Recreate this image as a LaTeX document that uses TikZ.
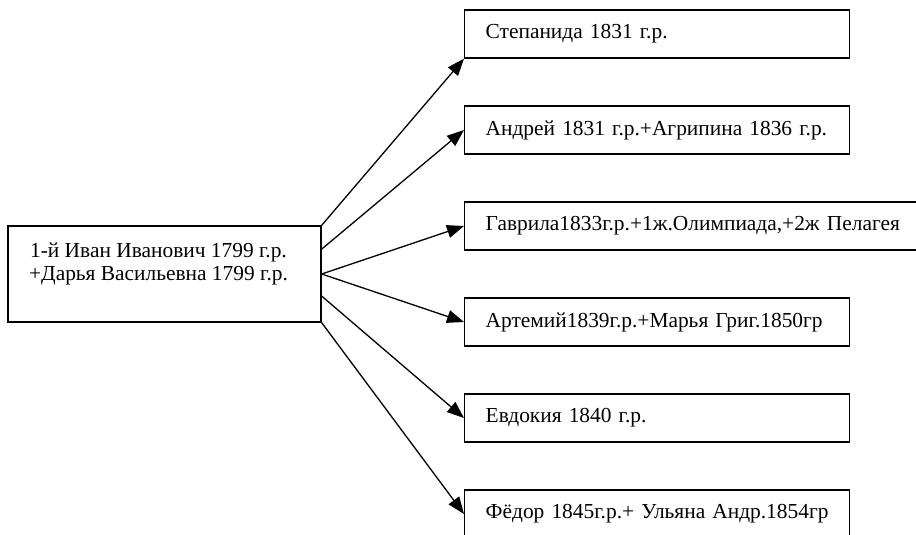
\documentclass[tikz,border=0pt]{standalone}
\usepackage{fontspec}
\setmainfont{Liberation Serif}
\usetikzlibrary{arrows.meta}

\tikzset{
  parentbox/.style={draw, line width=1.4pt, minimum width=313pt, minimum height=96pt, inner sep=0pt},
  childbox/.style={draw, line width=1.4pt, anchor=west, minimum height=48pt, inner xsep=21pt, inner ysep=0pt, text width=343pt, align=left},
  kin/.style={-{Triangle[length=17pt,width=13pt]}, line width=1.3pt}
}

\begin{document}
\begin{tikzpicture}[x=1pt,y=-1pt,font=\fontsize{21.4}{23}\selectfont]
        \useasboundingbox (0,0) rectangle (916,535);
        \clip (0,0) rectangle (916,535);
        \node[parentbox] (parent) at (164.5,274) {};
        \node[align=center, inner sep=0pt] (parenttext) at (158.5,264) {1-й Иван Иванович 1799 г.р.\\+Дарья Васильевна 1799 г.р.};
        \node[childbox] (child1) at (464,34) {Степанида 1831 г.р.};
        \node[childbox] (child2) at (464,130) {Андрей 1831 г.р.+Агрипина 1836 г.р.};
        \node[childbox, text width=455pt] (child3) at (464,226) {Гаврила1833г.р.+1ж.Олимпиада,+2ж Пелагея};
        \node[childbox] (child4) at (464,322) {Артемий1839г.р.+Марья Григ.1850гр};
        \node[childbox] (child5) at (464,418) {Евдокия 1840 г.р.};
        \node[childbox] (child6) at (464,514) {Фёдор 1845г.р.+ Ульяна Андр.1854гр};
        \draw[kin] (parent.north east) -- (child1.south west);
        \draw[kin] (parent.9) -- (child2.west);
        \draw[kin] (parent.east) -- (child3.west);
        \draw[kin] (parent.east) -- (child4.west);
        \draw[kin] (parent.-8.4) -- (child5.west);
        \draw[kin] (parent.south east) -- (child6.west);
\end{tikzpicture}
\end{document}
